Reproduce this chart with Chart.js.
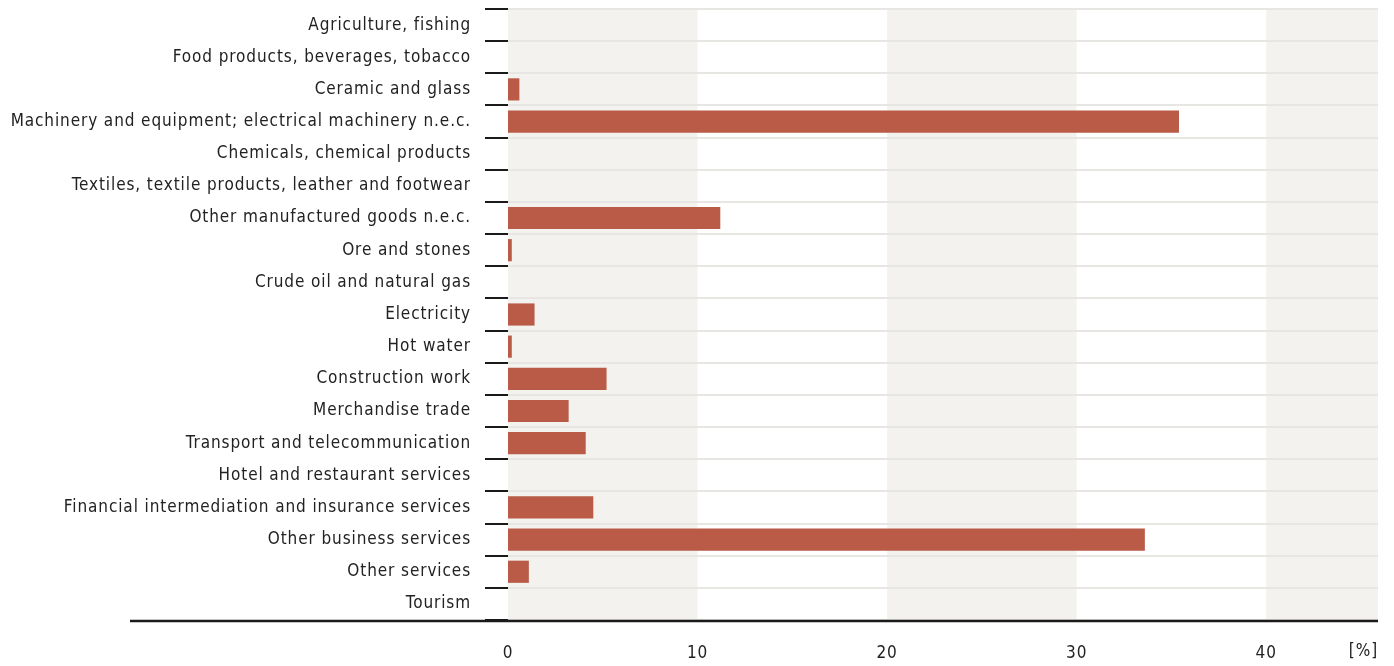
<!DOCTYPE html>
<html lang="en">
<head>
  <meta charset="UTF-8" />
  <title>Shares by sector</title>
  <script src="https://cdn.jsdelivr.net/npm/chart.js"></script>
  <style>
    * { margin: 0; padding: 0; box-sizing: border-box; }
    body { background: #fff; width: 1394px; height: 666px; overflow: hidden; }
    .chart-container { position: relative; width: 1394px; height: 666px; }
  </style>
</head>
<body>
  <div class="chart-container">
    <canvas id="sectorChart"></canvas>
  </div>

  <script>
    // categories, top to bottom
    const sectors = [
      'Agriculture, fishing',
      'Food products, beverages, tobacco',
      'Ceramic and glass',
      'Machinery and equipment; electrical machinery n.e.c.',
      'Chemicals, chemical products',
      'Textiles, textile products, leather and footwear',
      'Other manufactured goods n.e.c.',
      'Ore and stones',
      'Crude oil and natural gas',
      'Electricity',
      'Hot water',
      'Construction work',
      'Merchandise trade',
      'Transport and telecommunication',
      'Hotel and restaurant services',
      'Financial intermediation and insurance services',
      'Other business services',
      'Other services',
      'Tourism'
    ];
    // share in %
    const shares = [0, 0, 0.6, 35.4, 0, 0, 11.2, 0.2, 0, 1.4, 0.2, 5.2, 3.2, 4.1, 0, 4.5, 33.6, 1.1, 0];
    const xTicks = [0, 10, 20, 30, 40];
    const xMax = 45.9;
    const unitLabel = '[%]';

    const fontFamily = "'DejaVu Sans Condensed', 'DejaVu Sans', sans-serif";
    const textColor = '#222';

    // alternating shaded bands 0-10, 20-30, 40-max
    const bandPlugin = {
      id: 'bands',
      beforeInit(chart) {
        // wider letter spacing like the original typeface
        chart.ctx.letterSpacing = '0.9px';
      },
      beforeDraw(chart) {
        const { ctx, chartArea, scales } = chart;
        const x = scales.x;
        ctx.letterSpacing = '0.9px';
        ctx.save();
        ctx.fillStyle = '#f3f2ee';
        for (let v = 0; v < xMax; v += 20) {
          const x0 = x.getPixelForValue(v);
          const x1 = x.getPixelForValue(Math.min(v + 10, xMax));
          ctx.fillRect(x0, chartArea.top, x1 - x0, chartArea.bottom - chartArea.top);
        }
        ctx.restore();
      },
      afterDraw(chart) {
        const { ctx, chartArea } = chart;
        ctx.save();
        // baseline
        ctx.strokeStyle = '#1a1a1a';
        ctx.lineWidth = 2.5;
        ctx.beginPath();
        ctx.moveTo(130, chartArea.bottom + 1);
        ctx.lineTo(chartArea.right, chartArea.bottom + 1);
        ctx.stroke();
        // unit label
        ctx.fillStyle = textColor;
        ctx.font = '17px ' + fontFamily;
        ctx.textAlign = 'right';
        ctx.textBaseline = 'middle';
        ctx.fillText(unitLabel, chartArea.right, 652);
        ctx.restore();
      }
    };

    const ctx = document.getElementById('sectorChart').getContext('2d');
    new Chart(ctx, {
      type: 'bar',
      data: {
        labels: sectors,
        datasets: [{
          data: shares,
          backgroundColor: '#b95b46',
          borderWidth: 0,
          categoryPercentage: 0.69,
          barPercentage: 1
        }]
      },
      options: {
        indexAxis: 'y',
        responsive: true,
        maintainAspectRatio: false,
        animation: false,
        layout: { padding: { top: 9, right: 16, left: 0, bottom: 0 } },
        plugins: {
          legend: { display: false },
          tooltip: { enabled: false }
        },
        scales: {
          x: {
            min: 0,
            max: xMax,
            afterBuildTicks(scale) {
              scale.ticks = xTicks.map(v => ({ value: v }));
            },
            afterFit(scale) {
              scale.height = 46;
              scale.paddingLeft = 0;
              scale.paddingRight = 0;
            },
            grid: { display: false },
            border: { display: false },
            ticks: {
              color: textColor,
              padding: 15,
              font: { family: fontFamily, size: 17 }
            }
          },
          y: {
            afterFit(scale) {
              scale.width = 508;
              scale.paddingTop = 0;
              scale.paddingBottom = 0;
            },
            offset: true,
            grid: {
              offset: true,
              color: '#e8e6e2',
              lineWidth: 2,
              drawTicks: true,
              tickLength: 23,
              tickWidth: 2,
              tickColor: '#1a1a1a'
            },
            border: { display: false },
            ticks: {
              color: textColor,
              padding: 14,
              autoSkip: false,
              font: { family: fontFamily, size: 17 }
            }
          }
        }
      },
      plugins: [bandPlugin]
    });
  </script>
</body>
</html>
